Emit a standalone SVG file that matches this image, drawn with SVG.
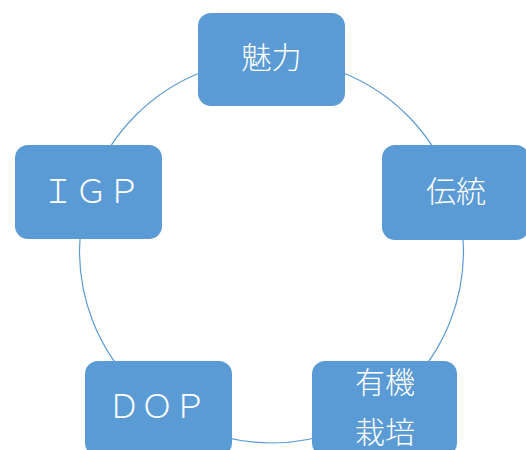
<svg xmlns="http://www.w3.org/2000/svg" width="526" height="450" viewBox="0 0 526 450">
<style>
.box{fill:#5B9BD5;}
.t{fill:#FFFFFF;font-family:"Noto Sans CJK JP","Noto Sans",sans-serif;font-size:30px;font-weight:300;text-anchor:middle;}
.l{font-size:33px;}
.ring{fill:none;stroke:#5B9BD5;stroke-width:1.2;}
</style>
<rect width="526" height="450" fill="#FFFFFF"/>
<g id="connectors">
<circle class="ring" cx="271.5" cy="251" r="192"/>
</g>
<g id="node-miryoku">
<rect class="box" x="198" y="13" width="147" height="93" rx="13"/>
<text class="t" x="271.5" y="68">魅力</text>
</g>
<g id="node-igp">
<rect class="box" x="15" y="145" width="147" height="94" rx="13"/>
<text class="t l" x="91" y="203">ＩＧＰ</text>
</g>
<g id="node-dentou">
<rect class="box" x="382" y="145" width="147" height="95" rx="13"/>
<text class="t" x="456" y="202">伝統</text>
</g>
<g id="node-dop">
<rect class="box" x="85" y="361" width="147" height="95" rx="13"/>
<text class="t l" x="157" y="418">ＤＯＰ</text>
</g>
<g id="node-yuuki">
<rect class="box" x="312" y="361" width="145" height="95" rx="13"/>
<text class="t" x="385" y="393">有機</text>
<text class="t" x="385" y="443">栽培</text>
</g>
</svg>
